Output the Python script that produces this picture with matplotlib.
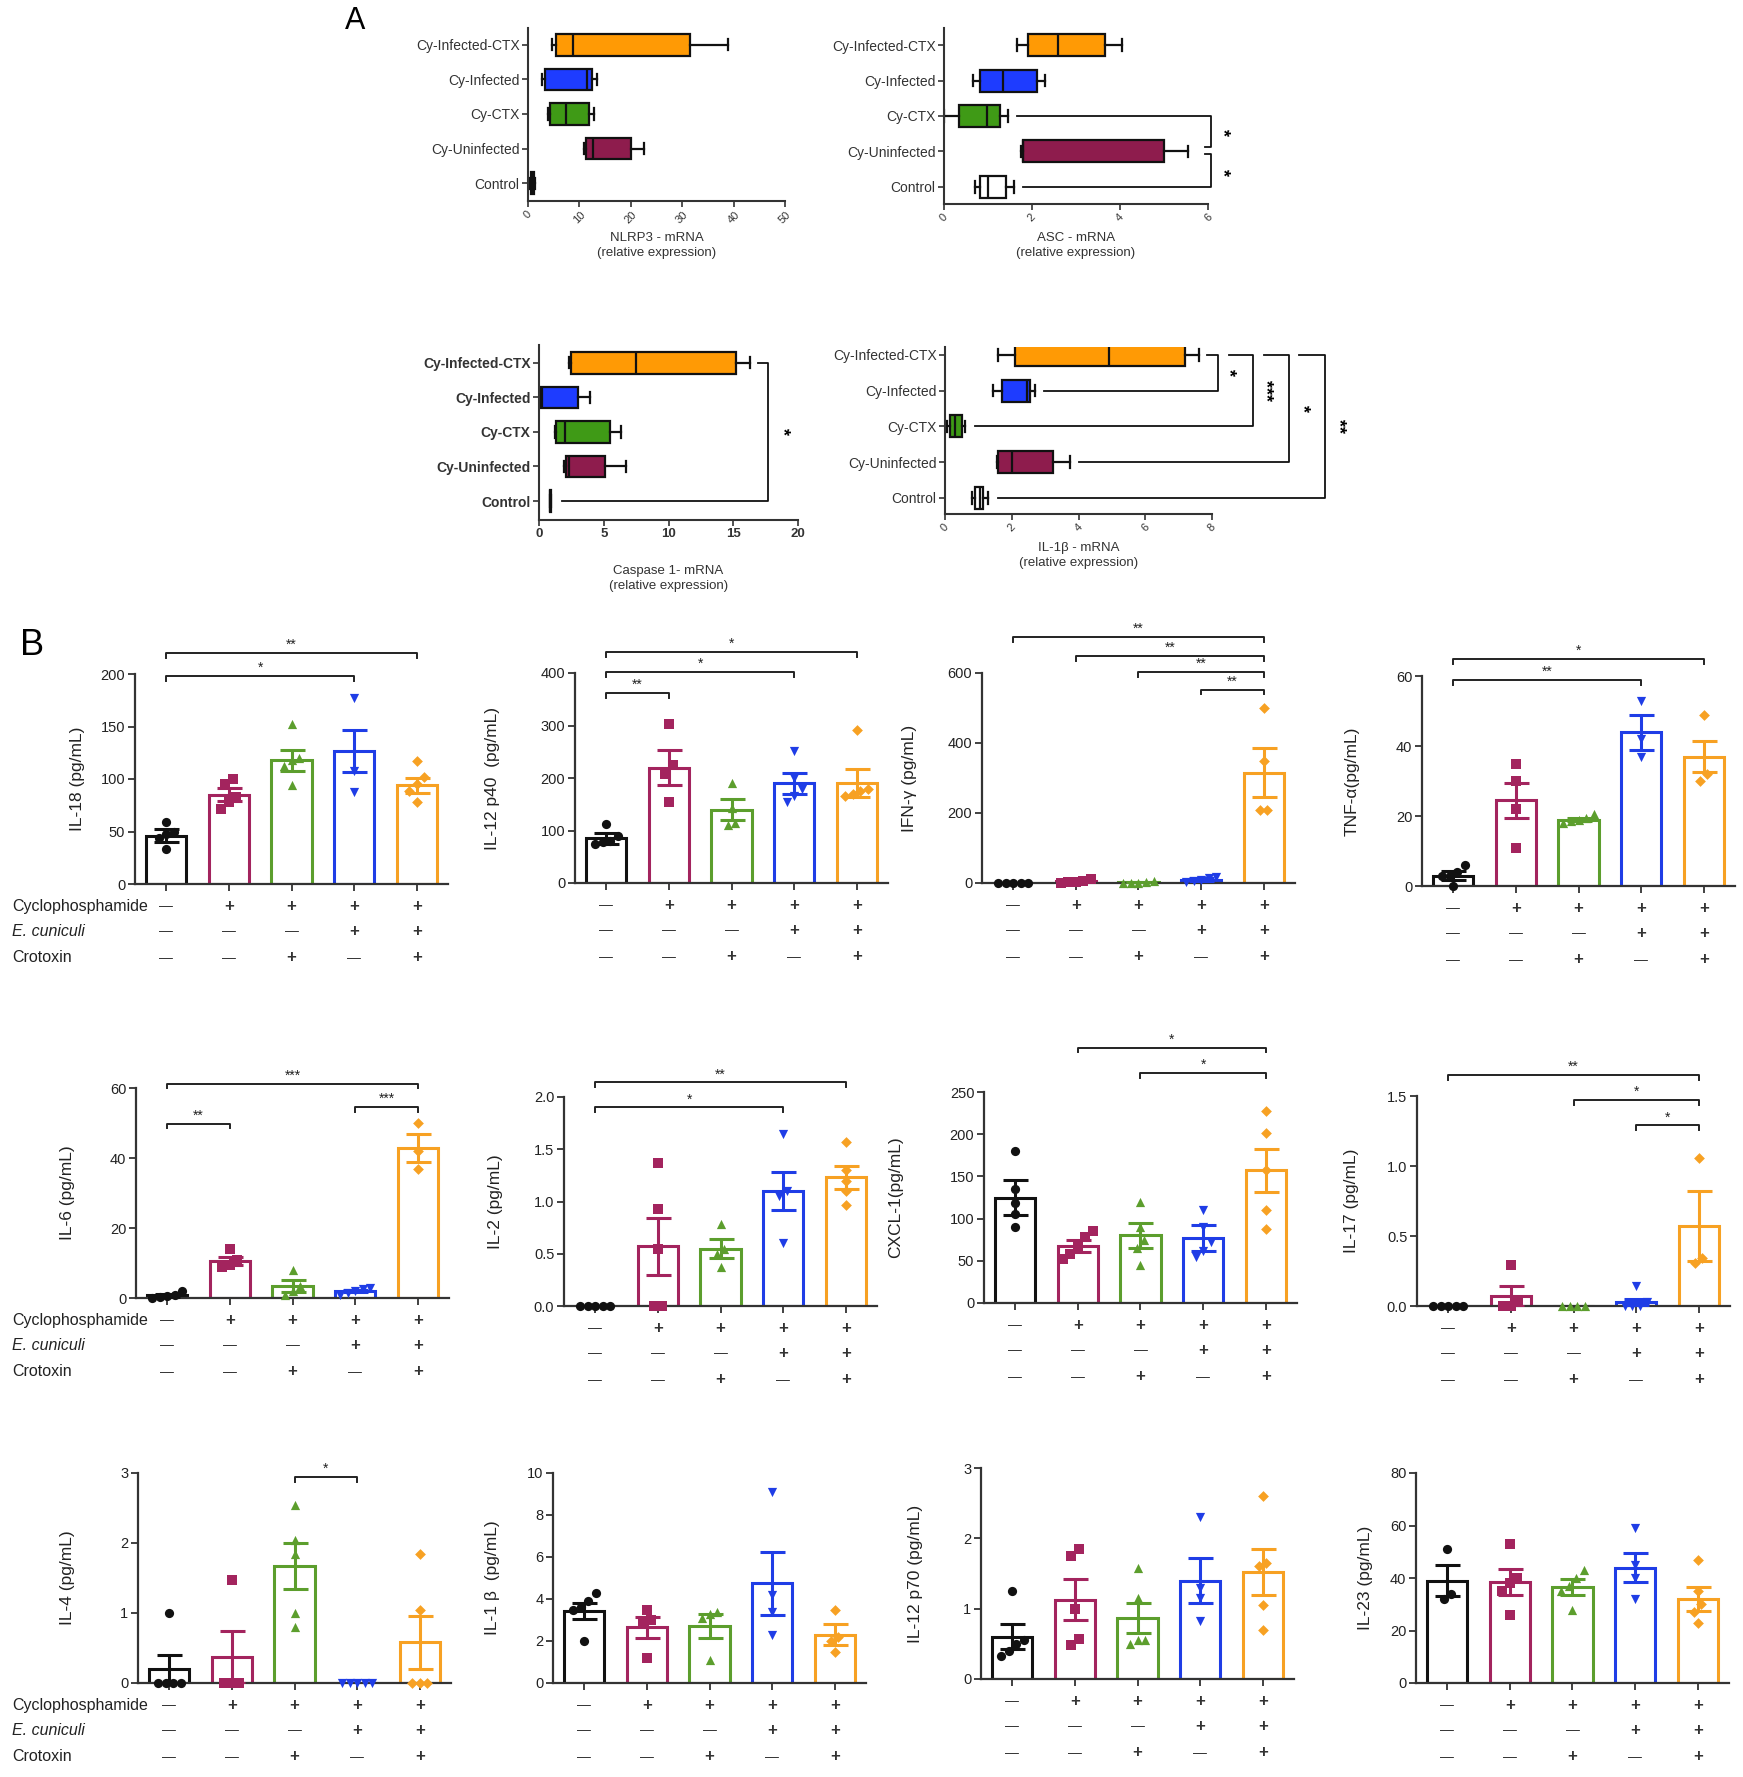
import numpy as np
import matplotlib
matplotlib.use("Agg")
import matplotlib.pyplot as plt

W, H = 1743, 1777
plt.rcParams['font.family'] = ['Liberation Sans', 'DejaVu Sans']

# ---------------- Panel A: mRNA box plots (order bottom -> top) ----------------
groups_a = ['Control', 'Cy-Uninfected', 'Cy-CTX', 'Cy-Infected', 'Cy-Infected-CTX']
box_colors = ['#FFFFFF', '#8E1C4D', '#3F9A16', '#1E3CFF', '#FF9A05']

nlrp3_lo = [0.4, 10.8, 3.9, 2.8, 4.7]
nlrp3_q1 = [0.6, 11.3, 4.3, 3.4, 5.5]
nlrp3_med = [0.9, 12.6, 7.3, 11.4, 8.7]
nlrp3_q3 = [1.2, 20.1, 11.8, 12.5, 31.6]
nlrp3_hi = [1.4, 22.6, 12.8, 13.5, 38.9]

asc_lo = [0.7, 1.75, 0.0, 0.65, 1.67]
asc_q1 = [0.82, 1.8, 0.33, 0.82, 1.92]
asc_med = [1.0, 1.8, 0.97, 1.33, 2.6]
asc_q3 = [1.42, 5.0, 1.28, 2.12, 3.67]
asc_hi = [1.58, 5.55, 1.45, 2.3, 4.05]

casp_lo = [0.85, 1.9, 1.2, 0.1, 2.3]
casp_q1 = [0.86, 2.1, 1.3, 0.15, 2.5]
casp_med = [0.88, 2.3, 2.0, 0.2, 7.5]
casp_q3 = [0.9, 5.1, 5.5, 3.0, 15.2]
casp_hi = [0.91, 6.7, 6.3, 3.9, 16.3]

il1b_lo = [0.8, 1.55, 0.05, 1.45, 1.6]
il1b_q1 = [0.9, 1.58, 0.15, 1.7, 2.1]
il1b_med = [1.05, 2.0, 0.3, 2.45, 4.9]
il1b_q3 = [1.15, 3.25, 0.5, 2.55, 7.2]
il1b_hi = [1.3, 3.75, 0.6, 2.7, 7.6]

# ---------------- Panel B: cytokines (Control, Cy-Uninf, Cy-CTX, Cy-Inf, Cy-Inf-CTX) ----------------
bar_colors = ['#111111', '#A3245E', '#5C9E2D', '#1F3DE6', '#F7A123']
markers = ['o', 's', '^', 'v', 'D']
cyclo = ['-', '+', '+', '+', '+']
ecun = ['-', '-', '-', '+', '+']
crot = ['-', '-', '+', '-', '+']

il18_pts = [[59, 50, 48, 44, 33], [100, 95, 83, 78, 71], [152, 120, 118, 112, 94], [177, 108, 88], [117, 102, 95, 89, 78]]
il18_mean = [46, 85, 118, 127, 94]
il18_sem = [6, 6, 10, 20, 7]

il12p40_pts = [[112, 90, 80, 78, 75], [302, 225, 208, 155], [190, 143, 115, 110], [252, 200, 180, 165, 155], [292, 180, 175, 170, 165]]
il12p40_mean = [85, 220, 140, 190, 190]
il12p40_sem = [10, 33, 20, 20, 27]

ifng_pts = [[0, 0, 0, 0, 0], [12, 6, 4, 2, 1], [5, 3, 1, 0, 0], [18, 14, 10, 6, 3], [500, 350, 210, 210]]
ifng_mean = [0, 5, 2, 10, 315]
ifng_sem = [0, 2, 1, 3, 70]

tnfa_pts = [[6, 4, 3, 3, 0], [35, 30, 22, 11], [20.5, 19.5, 19, 18.5, 18], [53, 42, 37], [49, 32, 30]]
tnfa_mean = [3, 24.5, 19, 44, 37]
tnfa_sem = [1.2, 5, 0.5, 5, 4.5]

il6_pts = [[2, 1, 0.5, 0.3, 0], [14, 11, 9.5, 9], [8, 3.5, 2, 1], [3, 2.5, 2, 1.5, 1], [50, 42, 37]]
il6_mean = [0.8, 10.5, 3.5, 2, 43]
il6_sem = [0.4, 1.2, 1.7, 0.4, 4]

il2_pts = [[0, 0, 0, 0, 0], [1.37, 0.93, 0.55, 0, 0], [0.78, 0.55, 0.5, 0.37], [1.65, 1.1, 1.05, 0.6], [1.57, 1.3, 1.2, 1.1, 0.97]]
il2_mean = [0, 0.57, 0.55, 1.1, 1.23]
il2_sem = [0, 0.27, 0.09, 0.18, 0.11]

cxcl1_pts = [[180, 135, 118, 105, 90], [85, 78, 68, 58, 52], [120, 90, 75, 65, 45], [110, 90, 72, 62, 55], [228, 202, 158, 110, 88]]
cxcl1_mean = [125, 68, 80, 77, 157]
cxcl1_sem = [21, 7, 15, 15, 26]

il17_pts = [[0, 0, 0, 0, 0], [0.29, 0.03, 0, 0], [0, 0, 0, 0], [0.14, 0.03, 0, 0, 0], [1.06, 0.34, 0.31]]
il17_mean = [0, 0.07, 0, 0.03, 0.57]
il17_sem = [0, 0.07, 0, 0.02, 0.25]

il4_pts = [[1.0, 0, 0, 0, 0], [1.47, 0, 0, 0], [2.55, 2.05, 1.85, 1.0, 0.8], [0, 0, 0, 0, 0], [1.85, 1.05, 0, 0, 0]]
il4_mean = [0.2, 0.37, 1.67, 0, 0.58]
il4_sem = [0.2, 0.37, 0.33, 0, 0.38]

il1bp_pts = [[4.3, 3.9, 3.6, 3.5, 2.0], [3.5, 3.0, 2.9, 1.2], [3.4, 3.3, 3.1, 1.1], [9.1, 4.2, 3.4, 2.3], [3.5, 2.2, 2.0, 1.5]]
il1bp_mean = [3.45, 2.65, 2.7, 4.75, 2.3]
il1bp_sem = [0.38, 0.5, 0.58, 1.5, 0.5]

il12p70_pts = [[1.25, 0.55, 0.5, 0.4, 0.33], [1.85, 1.75, 1.0, 0.57, 0.48], [1.58, 1.15, 0.55, 0.55, 0.5], [2.3, 1.3, 1.15, 0.82], [2.6, 1.65, 1.6, 1.05, 0.7]]
il12p70_mean = [0.6, 1.13, 0.87, 1.4, 1.52]
il12p70_sem = [0.18, 0.29, 0.21, 0.32, 0.33]

il23_pts = [[51, 34, 32], [53, 40, 38, 35, 26], [43, 40, 37, 35, 28], [59, 45, 40, 32], [47, 35, 30, 27, 23]]
il23_mean = [39, 38.5, 36.5, 44, 32]
il23_sem = [6, 5, 3, 5.5, 4.5]

fig = plt.figure(figsize=(W / 100, H / 100), dpi=100)


def px_axes(left, top, right, bottom):
    return fig.add_axes([left / W, 1 - bottom / H, (right - left) / W, (bottom - top) / H])


def box_panel(box, lo, q1, med, q3, hi, xmax, xticks, ylim, rotate, bold, xlabel, label_y):
    ax = px_axes(*box)
    stats = [dict(whislo=a, q1=b, med=c, q3=d, whishi=e, fliers=[])
             for a, b, c, d, e in zip(lo, q1, med, q3, hi)]
    lp = dict(color='#111111', linewidth=1.6)
    res = ax.bxp(stats, positions=range(5), orientation='horizontal', widths=0.62,
                 patch_artist=True, showfliers=False, capwidths=0.32,
                 boxprops=dict(edgecolor='#111111', linewidth=1.6),
                 medianprops=lp, whiskerprops=lp, capprops=lp)
    for patch, c in zip(res['boxes'], box_colors):
        patch.set_facecolor(c)
    ax.set_xlim(0, xmax)
    ax.set_ylim(*ylim)
    ax.set_xticks(xticks)
    weight = 'bold' if bold else 'normal'
    ax.set_yticks(range(5))
    ax.set_yticklabels(groups_a, fontsize=10, fontweight=weight, color='#333333')
    if rotate:
        ax.set_xticklabels([str(t) for t in xticks], rotation=45, fontsize=8, color='#333333')
    else:
        ax.set_xticklabels([str(t) for t in xticks], fontsize=9.5, fontweight='bold', color='#333333')
    for s in ['top', 'right']:
        ax.spines[s].set_visible(False)
    for s in ['left', 'bottom']:
        ax.spines[s].set_linewidth(1.5)
        ax.spines[s].set_color('#333333')
    ax.tick_params(length=4, width=1.2, color='#333333', pad=2)
    cx = (box[0] + box[2]) / 2
    fig.text(cx / W, 1 - label_y / H, xlabel, ha='center', va='top', fontsize=9.5,
             color='#333333', linespacing=1.3)
    return ax


def bracket_a(ax, y1, y2, x1, x2, xv, text, tx, ty):
    ax.plot([x1, xv, xv, x2], [y1, y1, y2, y2], color='#111111', lw=1.3, clip_on=False)
    ax.text(tx, ty, text, rotation=270, ha='center', va='center', fontsize=13,
            fontweight='bold', clip_on=False)


# NLRP3
box_panel((528, 28, 785, 201), nlrp3_lo, nlrp3_q1, nlrp3_med, nlrp3_q3, nlrp3_hi,
          50, [0, 10, 20, 30, 40, 50], (-0.52, 4.49), True, False,
          'NLRP3 - mRNA\n(relative expression)', 232)

# ASC
ax_asc = box_panel((944, 28, 1208, 204), asc_lo, asc_q1, asc_med, asc_q3, asc_hi,
                   6, [0, 2, 4, 6], (-0.48, 4.48), True, False,
                   'ASC - mRNA\n(relative expression)', 232)
bracket_a(ax_asc, 2, 1.14, asc_hi[2] + 0.2, 6.07 - 0.14, 6.07, '*', 6.32, 1.53)
bracket_a(ax_asc, 0.94, 0, 6.07 - 0.14, asc_hi[0] + 0.22, 6.07, '*', 6.32, 0.42)

# Caspase 1
ax_casp = box_panel((539, 345, 798, 520), casp_lo, casp_q1, casp_med, casp_q3, casp_hi,
                    20, [0, 5, 10, 15, 20], (-0.55, 4.52), False, True,
                    'Caspase 1- mRNA\n(relative expression)', 565)
bracket_a(ax_casp, 4, 0, casp_hi[4] + 0.6, casp_hi[0] + 0.9, 17.7, '*', 18.8, 2)

# IL-1beta mRNA
ax_il1 = box_panel((945, 347, 1212, 514), il1b_lo, il1b_q1, il1b_med, il1b_q3, il1b_hi,
                   8, [0, 2, 4, 6, 8], (-0.45, 4.22), True, False,
                   'IL-1\u03b2 - mRNA\n(relative expression)', 542)
bracket_a(ax_il1, 4, 3, il1b_hi[4] + 0.24, il1b_hi[3] + 0.28, 8.17, '*', 8.5, 3.5)
bracket_a(ax_il1, 4, 2, 8.5, il1b_hi[2] + 0.3, 9.22, '***', 9.6, 3.0)
bracket_a(ax_il1, 4, 1, 9.55, il1b_hi[1] + 0.25, 10.3, '*', 10.7, 2.5)
bracket_a(ax_il1, 4, 0, 10.6, il1b_hi[0] + 0.3, 11.4, '**', 11.78, 2.0)

fig.text(345 / W, 1 - 6 / H, 'A', fontsize=22, ha='left', va='top')
fig.text(20 / W, 1 - 628 / H, 'B', fontsize=26, ha='left', va='top')


# ---------------- Panel B bar charts ----------------
def swarm_offsets(vals, ymax):
    vals = np.asarray(vals, dtype=float)
    order = np.argsort(vals)
    offs = np.zeros(len(vals))
    clusters = [[order[0]]]
    for k in order[1:]:
        if vals[k] - vals[clusters[-1][-1]] < 0.045 * ymax:
            clusters[-1].append(k)
        else:
            clusters.append([k])
    for cl in clusters:
        n = len(cl)
        for m, k in enumerate(cl):
            offs[k] = (m - (n - 1) / 2) * 0.12
    return offs


def bar_panel(box, pts, mean, sem, ymax, yticks, ylabel, ylabel_x, sigs, fmt, first_col):
    left, top, bottom = box
    right = left + 313
    ax = px_axes(left, top, right, bottom)
    x = np.arange(5)
    ax.bar(x, mean, width=0.64, facecolor='white', edgecolor=bar_colors, linewidth=2.2, zorder=2)
    for i in range(5):
        offs = swarm_offsets(pts[i], ymax)
        ax.scatter(i + offs, pts[i], marker=markers[i], color=bar_colors[i],
                   s=30 if markers[i] == 'D' else 44, zorder=3, clip_on=False, linewidths=0)
        if sem[i] > 0:
            ax.errorbar(i, mean[i], yerr=sem[i], fmt='none', ecolor=bar_colors[i],
                        elinewidth=2.2, capsize=9, capthick=2.2, zorder=4)
    ax.set_xlim(-0.5, 4.5)
    ax.set_ylim(0, ymax)
    ax.set_yticks(yticks)
    ax.set_yticklabels([fmt.format(t) for t in yticks], fontsize=10.5, color='#222222')
    ax.set_xticks(x)
    ax.set_xticklabels([])
    for s in ['top', 'right']:
        ax.spines[s].set_visible(False)
    for s in ['left', 'bottom']:
        ax.spines[s].set_linewidth(1.6)
        ax.spines[s].set_color('#333333')
    ax.tick_params(length=5, width=1.3, color='#333333', pad=2)
    ax.set_ylabel(ylabel, fontsize=12.5, color='#222222')
    ax.yaxis.set_label_coords((ylabel_x - left) / 313, 0.5)

    for i, j, level, txt in sigs:
        y = level * ymax
        tip = 0.022 * ymax
        ax.plot([i, i, j, j], [y - tip, y, y, y - tip], color='#222222', lw=1.4, clip_on=False)
        ax.text((i + j) / 2, y + 0.005 * ymax, txt, ha='center', va='bottom', fontsize=10,
                color='#222222')

    offsets = [16, 34, 53]
    for row, signs in enumerate([cyclo, ecun, crot]):
        for i, sgn in enumerate(signs):
            ax.annotate('+' if sgn == '+' else '\u2014', xy=(i, 0),
                        xycoords=('data', 'axes fraction'), xytext=(0, -offsets[row]),
                        textcoords='offset points', ha='center', va='center',
                        fontsize=12 if sgn == '+' else 10, color='#333333',
                        fontweight='bold' if sgn == '+' else 'normal')
    if first_col:
        names = ['Cyclophosphamide', 'E. cuniculi', 'Crotoxin']
        for row, name in enumerate(names):
            ypx = bottom + offsets[row] * 100 / 72
            fig.text(12 / W, 1 - ypx / H, name, ha='left', va='center', fontsize=11.5,
                     style='italic' if row == 1 else 'normal', color='#222222')
    return ax


panels = [
    ((135, 674, 884), il18_pts, il18_mean, il18_sem, 200, [0, 50, 100, 150, 200],
     'IL-18 (pg/mL)', 85, [(0, 3, 0.99, '*'), (0, 4, 1.10, '**')], '{:g}', True),
    ((575, 673, 883), il12p40_pts, il12p40_mean, il12p40_sem, 400, [0, 100, 200, 300, 400],
     'IL-12 p40  (pg/mL)', 500, [(0, 1, 0.905, '**'), (0, 3, 1.005, '*'), (0, 4, 1.10, '*')], '{:g}', False),
    ((982, 673, 883), ifng_pts, ifng_mean, ifng_sem, 600, [0, 200, 400, 600],
     'IFN-\u03b3 (pg/mL)', 917, [(0, 4, 1.17, '**'), (1, 4, 1.08, '**'), (2, 4, 1.005, '**'),
                                 (3, 4, 0.92, '**')], '{:g}', False),
    ((1422, 676, 886), tnfa_pts, tnfa_mean, tnfa_sem, 60, [0, 20, 40, 60],
     'TNF-\u03b1(pg/mL)', 1360, [(0, 3, 0.98, '**'), (0, 4, 1.08, '*')], '{:g}', False),
    ((136, 1088, 1298), il6_pts, il6_mean, il6_sem, 60, [0, 20, 40, 60],
     'IL-6 (pg/mL)', 75, [(0, 1, 0.83, '**'), (3, 4, 0.91, '***'), (0, 4, 1.02, '***')], '{:g}', True),
    ((564, 1097, 1306), il2_pts, il2_mean, il2_sem, 2.0, [0, 0.5, 1.0, 1.5, 2.0],
     'IL-2 (pg/mL)', 503, [(0, 3, 0.95, '*'), (0, 4, 1.07, '**')], '{:.1f}', False),
    ((984, 1092, 1303), cxcl1_pts, cxcl1_mean, cxcl1_sem, 250, [0, 50, 100, 150, 200, 250],
     'CXCL-1(pg/mL)', 903, [(2, 4, 1.09, '*'), (1, 4, 1.21, '*')], '{:g}', False),
    ((1417, 1096, 1306), il17_pts, il17_mean, il17_sem, 1.5, [0, 0.5, 1.0, 1.5],
     'IL-17 (pg/mL)', 1359, [(0, 4, 1.10, '**'), (2, 4, 0.98, '*'), (3, 4, 0.86, '*')], '{:.1f}', False),
    ((138, 1473, 1683), il4_pts, il4_mean, il4_sem, 3, [0, 1, 2, 3],
     'IL-4 (pg/mL)', 75, [(2, 3, 0.98, '*')], '{:g}', True),
    ((553, 1473, 1683), il1bp_pts, il1bp_mean, il1bp_sem, 10, [0, 2, 4, 6, 8, 10],
     'IL-1 \u03b2  (pg/mL)', 500, [], '{:g}', False),
    ((981, 1468, 1679), il12p70_pts, il12p70_mean, il12p70_sem, 3, [0, 1, 2, 3],
     'IL-12 p70 (pg/mL)', 923, [], '{:g}', False),
    ((1416, 1473, 1683), il23_pts, il23_mean, il23_sem, 80, [0, 20, 40, 60, 80],
     'IL-23 (pg/mL)', 1373, [], '{:g}', False),
]

for p in panels:
    bar_panel(*p)

fig.savefig('out.png', dpi=100, facecolor='white')
